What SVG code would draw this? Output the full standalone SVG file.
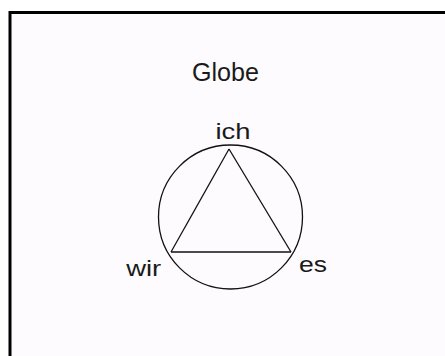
<svg xmlns="http://www.w3.org/2000/svg" width="445" height="356" viewBox="0 0 445 356">
<style>
.lbl{font-family:"Liberation Sans",Arial,sans-serif;fill:#1a1a1a;text-anchor:middle}
.ln{fill:none;stroke:#111;stroke-width:1.3}
</style>
<rect x="0" y="0" width="445" height="356" fill="#ffffff"/>
<rect x="10" y="12.5" width="440" height="350" fill="#fdfbfd"/>
<path d="M10,356 V12.5 H445" fill="none" stroke="#000" stroke-width="3"/>
<text class="lbl" x="225.5" y="81" font-size="25" textLength="67" lengthAdjust="spacingAndGlyphs">Globe</text>
<g id="globe">
<circle class="ln" cx="230.5" cy="217" r="72"/>
</g>
<g id="connectors">
<line class="ln" x1="229" y1="149" x2="171" y2="252"/>
<line class="ln" x1="229" y1="149" x2="291" y2="252"/>
<line class="ln" x1="171" y1="252" x2="291" y2="252"/>
</g>
<g id="ich"><text class="lbl" x="233" y="138.5" font-size="22" textLength="35" lengthAdjust="spacingAndGlyphs">ich</text></g>
<g id="wir"><text class="lbl" x="143.7" y="275.7" font-size="22" textLength="35" lengthAdjust="spacingAndGlyphs">wir</text></g>
<g id="es"><text class="lbl" x="313" y="272" font-size="22" textLength="28" lengthAdjust="spacingAndGlyphs">es</text></g>
</svg>
